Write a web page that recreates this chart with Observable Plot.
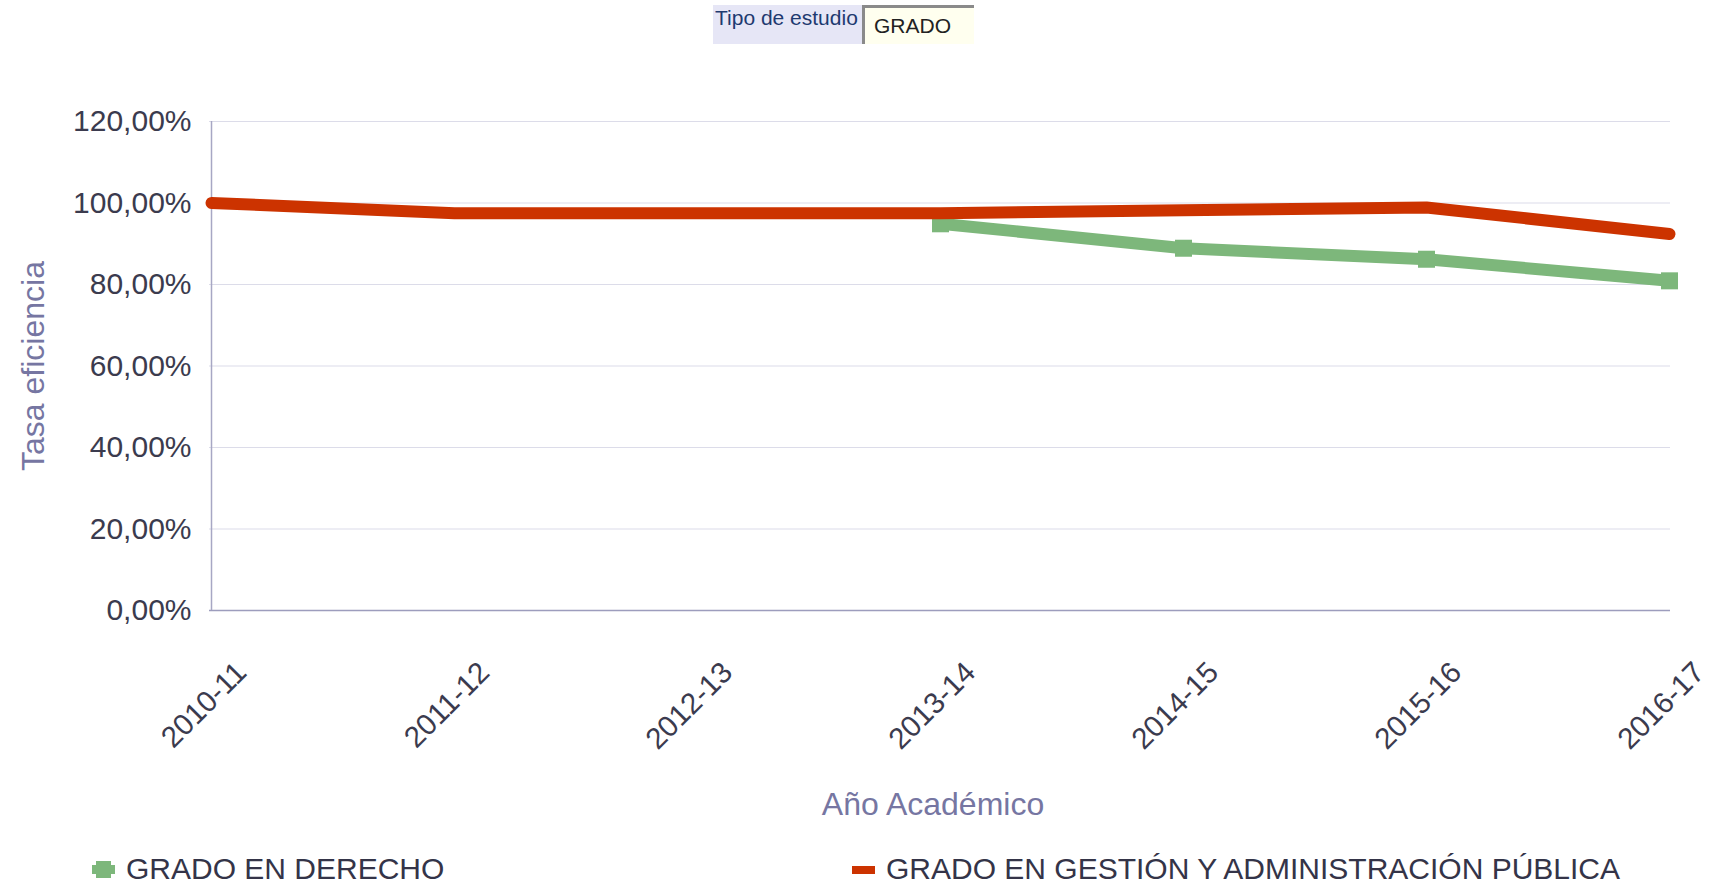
<!DOCTYPE html>
<html><head><meta charset="utf-8">
<script src="https://cdn.jsdelivr.net/npm/d3@7"></script>
<script src="https://cdn.jsdelivr.net/npm/@observablehq/plot@0.6"></script>
<style>
body{margin:0;background:#fff;font-family:"Liberation Sans",Arial,sans-serif;}
#wrap{position:relative;width:1719px;height:886px;overflow:hidden;background:#fff;}
#chart{position:absolute;left:0;top:0;}
#hdr{position:absolute;left:713px;top:5px;height:39px;display:flex;}
#hdr .lab{background:#e6e6f6;color:#1e3a70;font-size:21px;width:149px;padding-left:2px;line-height:26px;box-sizing:border-box;}
#hdr .sel{background:#ffffef;width:112px;border-left:3px solid #8a8a8a;border-top:3px solid #8a8a8a;box-sizing:border-box;color:#222;font-size:21px;padding-left:9px;padding-top:6px;}
.leg{position:absolute;top:854px;height:30px;line-height:30px;display:flex;align-items:center;font-size:30px;color:#343448;white-space:nowrap;}
.sw{position:relative;width:26px;height:26px;margin-right:11px;}
</style></head><body>
<div id="wrap">
  <div id="hdr"><div class="lab">Tipo de estudio</div><div class="sel">GRADO</div></div>
  <div id="chart"></div>
  <div id="legend"></div>
</div>
<script>
const years = ["2010-11","2011-12","2012-13","2013-14","2014-15","2015-16","2016-17"];
const derecho = [null, null, null, 94.9, 88.9, 86.2, 80.9];
const gestion = [100, 97.5, 97.5, 97.5, 98.2, 98.9, 92.4];
const yTicks = [0, 20, 40, 60, 80, 100, 120];
const seriesNames = ["GRADO EN DERECHO", "GRADO EN GESTIÓN Y ADMINISTRACIÓN PÚBLICA"];
const seriesColors = ["#7db77b", "#cc3300"];
const xTitle = "Año Académico";
const yTitle = "Tasa eficiencia";

const rows = [];
[derecho, gestion].forEach((vals, si) => {
  vals.forEach((v, i) => { if (v != null) rows.push({year: years[i], value: v, series: seriesNames[si]}); });
});
const fmt = d => d.toFixed(2).replace(".", ",") + "%";

const chart = Plot.plot({
  width: 1719, height: 830,
  marginLeft: 209, marginRight: 49, marginTop: 121, marginBottom: 220,
  style: {fontFamily: '"Liberation Sans", Arial, sans-serif', background: "transparent"},
  x: {type: "point", domain: years, padding: 0, label: null},
  y: {domain: [0, 120], label: null},
  color: {domain: seriesNames, range: seriesColors},
  marks: [
    Plot.gridY(yTicks, {stroke: "#dcdce9", strokeOpacity: 1, strokeWidth: 1.2}),
    Plot.ruleY([0], {stroke: "#9d9dbd", strokeWidth: 1.5}),
    Plot.ruleX([years[0]], {y1: 0, y2: 120, stroke: "#a7a7c4", strokeWidth: 1.5}),
    Plot.axisY(yTicks, {tickSize: 0, tickPadding: 18, fontSize: 30, fill: "#3b3b4e", tickFormat: fmt, label: null}),
    Plot.axisX({tickRotate: -45, tickSize: 0, tickPadding: 30, dx: 30, dy: 27, fontSize: 29.5, fill: "#3b3b4e", label: null}),
    Plot.text([xTitle], {frameAnchor: "bottom", dx: -7, dy: 204, fontSize: 32, fill: "#7676a2"}),
    Plot.text([yTitle], {frameAnchor: "left", textAnchor: "middle", dx: -176, rotate: -90, fontSize: 32, fill: "#7676a2"}),
    Plot.line(rows.filter(d => d.series === seriesNames[0]), {x: "year", y: "value", stroke: "series", strokeWidth: 12, strokeLinejoin: "miter"}),
    Plot.dot(rows.filter(d => d.series === seriesNames[0]), {x: "year", y: "value", fill: "series", symbol: "square", r: 9.6}),
    Plot.line(rows.filter(d => d.series === seriesNames[1]), {x: "year", y: "value", stroke: "series", strokeWidth: 12, strokeLinejoin: "miter"})
  ]
});
document.getElementById("chart").appendChild(chart);

// legend
const legend = document.getElementById("legend");
const legLeft = [92, 852];
seriesNames.forEach((name, i) => {
  const item = document.createElement("div");
  item.className = "leg";
  item.style.left = legLeft[i] + "px";
  const sw = document.createElement("div");
  sw.className = "sw";
  const c = seriesColors[i];
  if (i === 0) {
    sw.innerHTML = `<div style="position:absolute;left:0;top:9px;width:23px;height:9px;background:${c}"></div><div style="position:absolute;left:4px;top:5px;width:15px;height:17px;background:${c}"></div>`;
  } else {
    sw.innerHTML = `<div style="position:absolute;left:0;top:10px;width:23px;height:8px;background:${c}"></div>`;
  }
  sw.style.width = "23px";
  item.appendChild(sw);
  const t = document.createElement("span");
  t.textContent = name;
  item.appendChild(t);
  legend.appendChild(item);
});
</script>
</body></html>
